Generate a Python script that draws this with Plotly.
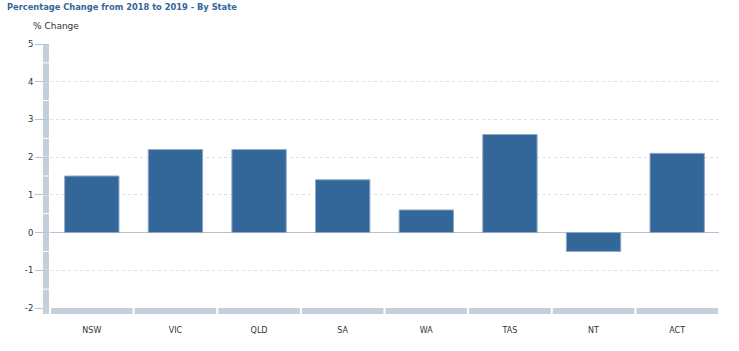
import plotly.graph_objects as go

categories = ["NSW", "VIC", "QLD", "SA", "WA", "TAS", "NT", "ACT"]
values = [1.5, 2.2, 2.2, 1.4, 0.6, 2.6, -0.5, 2.1]
y_ticks = [-2, -1, 0, 1, 2, 3, 4, 5]

YMIN, YMAX = -2, 5
BAR = "#336699"
DECO = "#c4cfdc"
FONT = "DejaVu Sans"

fig = go.Figure()
fig.add_trace(go.Bar(
    x=categories, y=values, width=0.65,
    marker=dict(color=BAR, line=dict(color="#8fa9c6", width=1)),
    hoverinfo="x+y",
))

W_PLOT = 739 - 50 - 20
H_PLOT = 351 - 44 - 43


def py(v):
    return (v - YMIN) / (YMAX - YMIN)


shapes = []
# left decorative segmented bar
n_seg = int((YMAX - YMIN) / 0.5)
for k in range(n_seg):
    v0 = YMIN + k * 0.5
    v1 = v0 + 0.5
    y0 = py(v0) + (0.5 / H_PLOT)
    y1 = py(v1) - (0.5 / H_PLOT)
    if k == 0:
        y0 = -6 / H_PLOT
    shapes.append(dict(type="rect", xref="paper", yref="paper",
                       x0=-7 / W_PLOT, x1=-1 / W_PLOT, y0=y0, y1=y1,
                       fillcolor=DECO, line=dict(width=0), layer="above"))
# bottom decorative segmented bar
n = len(categories)
for i in range(n):
    shapes.append(dict(type="rect", xref="paper", yref="paper",
                       x0=i / n + (1 / W_PLOT), x1=(i + 1) / n - (1 / W_PLOT),
                       y0=-6 / H_PLOT, y1=0,
                       fillcolor=DECO, line=dict(width=0), layer="above"))

fig.update_layout(
    width=739, height=351,
    margin=dict(l=50, r=20, t=44, b=43),
    plot_bgcolor="white", paper_bgcolor="white",
    showlegend=False,
    bargap=0.35,
    shapes=shapes,
    font=dict(family=FONT, color="#333333", size=8),
    annotations=[
        dict(text="<b>Percentage Change from 2018 to 2019 - By State</b>",
             xref="paper", yref="paper", x=-45 / W_PLOT, y=1 + 37 / H_PLOT,
             xanchor="left", yanchor="middle", showarrow=False,
             font=dict(family=FONT, size=8.3, color="#336699")),
        dict(text="% Change",
             xref="paper", yref="paper", x=-19 / W_PLOT, y=1 + 18 / H_PLOT,
             xanchor="left", yanchor="middle", showarrow=False,
             font=dict(family=FONT, size=9, color="#333333")),
    ],
)

fig.update_yaxes(
    range=[YMIN, YMAX], tickvals=y_ticks, ticktext=[str(t) for t in y_ticks],
    showgrid=True, gridcolor="#dedede", griddash="dot", gridwidth=1,
    zeroline=True, zerolinecolor="#b5c2d2", zerolinewidth=1,
    ticks="outside", ticklen=14, tickcolor="#b8c4d2", tickwidth=1,
    showline=False, tickfont=dict(size=8.5, color="#333333"),
    fixedrange=True,
)
fig.update_xaxes(
    showgrid=False, showline=False, zeroline=False,
    ticks="outside", ticklen=14, tickcolor="rgba(0,0,0,0)",
    tickfont=dict(size=8, color="#333333"),
    range=[-0.5, len(categories) - 0.5], fixedrange=True,
)

fig.write_html("out.html")
